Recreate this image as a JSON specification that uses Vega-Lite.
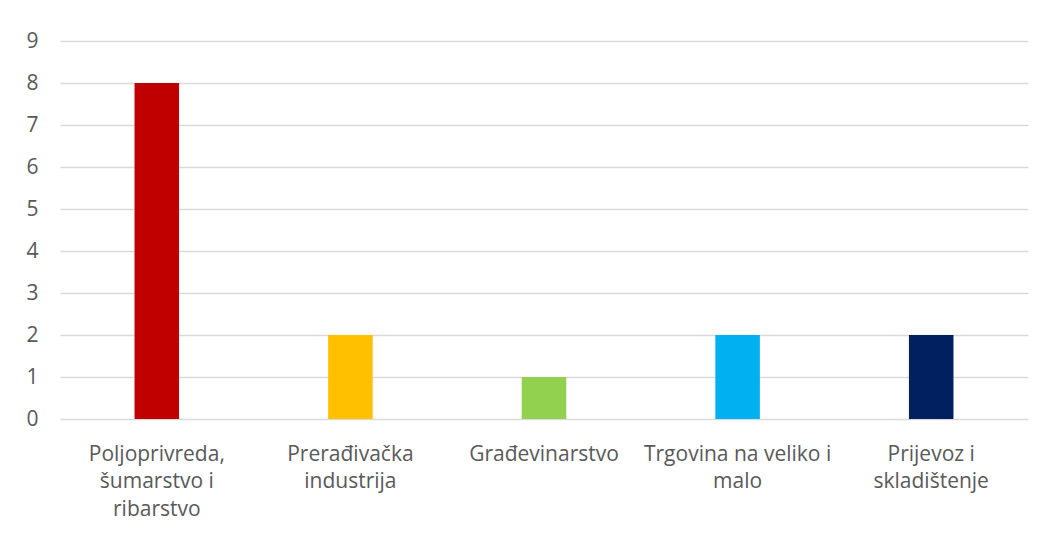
{
  "$schema": "https://vega.github.io/schema/vega-lite/v6.json",
  "width": 968,
  "height": 378,
  "autosize": "none",
  "padding": {"left": 60, "top": 41, "right": 13, "bottom": 114},
  "background": "white",
  "data": {
    "values": [
      {"sektor": "Poljoprivreda, šumarstvo i ribarstvo", "broj": 8},
      {"sektor": "Prerađivačka industrija", "broj": 2},
      {"sektor": "Građevinarstvo", "broj": 1},
      {"sektor": "Trgovina na veliko i malo", "broj": 2},
      {"sektor": "Prijevoz i skladištenje", "broj": 2}
    ]
  },
  "mark": {"type": "bar"},
  "encoding": {
    "x": {
      "field": "sektor",
      "type": "nominal",
      "sort": null,
      "scale": {"paddingInner": 0.77, "paddingOuter": 0.385},
      "axis": {
        "title": null,
        "domain": false,
        "ticks": false,
        "labelAngle": 0,
        "labelFont": "Open Sans",
        "labelFontSize": 21,
        "labelColor": "#595959",
        "labelPadding": 24,
        "labelLineHeight": 27.5,
        "labelLimit": 300,
        "labelExpr": "datum.value == 'Poljoprivreda, šumarstvo i ribarstvo' ? ['Poljoprivreda,', 'šumarstvo i', 'ribarstvo'] : datum.value == 'Prerađivačka industrija' ? ['Prerađivačka', 'industrija'] : datum.value == 'Trgovina na veliko i malo' ? ['Trgovina na veliko i', 'malo'] : datum.value == 'Prijevoz i skladištenje' ? ['Prijevoz i', 'skladištenje'] : datum.value"
      }
    },
    "y": {
      "field": "broj",
      "type": "quantitative",
      "scale": {"domain": [0, 9]},
      "axis": {
        "title": null,
        "domain": false,
        "ticks": false,
        "values": [0, 1, 2, 3, 4, 5, 6, 7, 8, 9],
        "labelFont": "Open Sans",
        "labelFontSize": 21,
        "labelColor": "#595959",
        "labelPadding": 22,
        "gridColor": "#D9D9D9",
        "gridWidth": 1.5
      }
    },
    "color": {
      "field": "sektor",
      "type": "nominal",
      "sort": null,
      "scale": {
        "domain": ["Poljoprivreda, šumarstvo i ribarstvo", "Prerađivačka industrija", "Građevinarstvo", "Trgovina na veliko i malo", "Prijevoz i skladištenje"],
        "range": ["#C00000", "#FFC000", "#92D050", "#00B0F0", "#002060"]
      },
      "legend": null
    }
  },
  "config": {
    "view": {"stroke": null}
  }
}
